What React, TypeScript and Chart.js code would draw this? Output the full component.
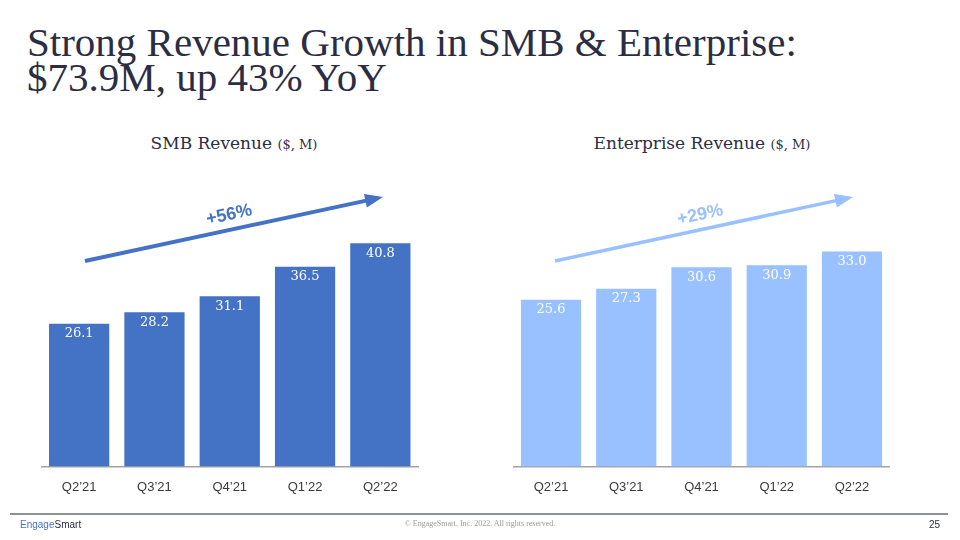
import React, { useEffect, useRef } from "react";
import { Chart, registerables } from "chart.js";

Chart.register(...registerables);

const categories = ["Q2’21", "Q3’21", "Q4’21", "Q1’22", "Q2’22"];
const smbRevenue = [26.1, 28.2, 31.1, 36.5, 40.8];
const enterpriseRevenue = [25.6, 27.3, 30.6, 30.9, 33.0];
const smbGrowthLabel = "+56%";
const enterpriseGrowthLabel = "+29%";

const NAVY = "#2B2E42";
const SMB_BLUE = "#4472C4";
const ENT_BLUE = "#99C0FF";

const valueLabelPlugin = {
  id: "valueLabels",
  afterDatasetsDraw(chart: any) {
    const ctx = chart.ctx;
    const meta = chart.getDatasetMeta(0);
    const data = chart.data.datasets[0].data as number[];
    ctx.save();
    ctx.fillStyle = "#FFFFFF";
    ctx.font = "13px 'DejaVu Serif'";
    ctx.textAlign = "center";
    ctx.textBaseline = "middle";
    meta.data.forEach((bar: any, i: number) => {
      ctx.fillText(data[i].toFixed(1), bar.x, bar.y + 10);
    });
    ctx.restore();
  },
};

function BarChart(props: {
  values: number[];
  color: string;
  max: number;
  padLeft: number;
  padRight: number;
  padTop: number;
}) {
  const ref = useRef<HTMLCanvasElement | null>(null);
  useEffect(() => {
    if (!ref.current) return;
    const chart = new Chart(ref.current, {
      type: "bar",
      data: {
        labels: categories,
        datasets: [
          {
            data: props.values,
            backgroundColor: props.color,
            borderWidth: 0,
            barPercentage: 0.8,
            categoryPercentage: 1.0,
          },
        ],
      },
      options: {
        responsive: false,
        animation: false,
        devicePixelRatio: 1,
        layout: {
          padding: {
            left: props.padLeft,
            right: props.padRight,
            top: props.padTop,
            bottom: 0,
          },
        },
        plugins: {
          legend: { display: false },
          tooltip: { enabled: false },
          title: { display: false },
        },
        scales: {
          x: {
            grid: { display: false, drawTicks: false },
            border: { display: true, color: "#A3A3A3", width: 1.5 },
            ticks: {
              color: "#3A3A3A",
              font: { family: "'Liberation Sans'", size: 13 },
              padding: 13,
            },
          },
          y: {
            display: false,
            min: 0,
            max: props.max,
          },
        },
      },
      plugins: [valueLabelPlugin],
    });
    return () => chart.destroy();
  }, []);
  return <canvas ref={ref} width={480} height={348} />;
}

function Arrow(props: {
  x1: number;
  y1: number;
  x2: number;
  y2: number;
  color: string;
  width: number;
  label: string;
  lx: number;
  ly: number;
}) {
  const { x1, y1, x2, y2, color, width } = props;
  const dx = x2 - x1;
  const dy = y2 - y1;
  const len = Math.sqrt(dx * dx + dy * dy);
  const ux = dx / len;
  const uy = dy / len;
  const headLen = 18;
  const headHalf = 7;
  const bx = x2 - ux * headLen;
  const by = y2 - uy * headLen;
  const px = -uy;
  const py = ux;
  const angle = (Math.atan2(dy, dx) * 180) / Math.PI;
  return (
    <g>
      <line x1={x1} y1={y1} x2={bx + ux * 2} y2={by + uy * 2} stroke={color} strokeWidth={width} />
      <polygon
        points={`${x2},${y2} ${bx + px * headHalf},${by + py * headHalf} ${bx - px * headHalf},${by - py * headHalf}`}
        fill={color}
      />
      <text
        x={props.lx}
        y={props.ly}
        fill={color}
        fontFamily="'Liberation Sans', Arial, sans-serif"
        fontWeight="bold"
        fontSize={18}
        textAnchor="middle"
        dominantBaseline="central"
        transform={`rotate(${angle} ${props.lx} ${props.ly})`}
      >
        {props.label}
      </text>
    </g>
  );
}

export default function App() {
  return (
    <div
      style={{
        position: "absolute",
        left: 0,
        top: 0,
        width: 960,
        height: 540,
        background: "#FFFFFF",
        overflow: "hidden",
        fontFamily: "'DejaVu Serif', serif",
      }}
    >
      <div
        style={{
          position: "absolute",
          left: 27,
          top: 25,
          fontFamily: "'Liberation Serif', serif",
          fontSize: 41,
          lineHeight: "35px",
          color: NAVY,
          whiteSpace: "nowrap",
        }}
      >
        Strong Revenue Growth in SMB &amp; Enterprise:
        <br />
        $73.9M, up 43% YoY
      </div>

      <div
        style={{
          position: "absolute",
          left: 0,
          width: 468,
          top: 133,
          textAlign: "center",
          color: NAVY,
          fontSize: 17,
          whiteSpace: "nowrap",
        }}
      >
        SMB Revenue <span style={{ fontSize: 13 }}>($, M)</span>
      </div>
      <div
        style={{
          position: "absolute",
          left: 480,
          width: 444,
          top: 133,
          textAlign: "center",
          color: NAVY,
          fontSize: 17,
          whiteSpace: "nowrap",
        }}
      >
        Enterprise Revenue <span style={{ fontSize: 13 }}>($, M)</span>
      </div>

      <div style={{ position: "absolute", left: 0, top: 160 }}>
        <BarChart values={smbRevenue} color={SMB_BLUE} max={50} padLeft={41.5} padRight={62} padTop={33} />
      </div>
      <div style={{ position: "absolute", left: 480, top: 160 }}>
        <BarChart values={enterpriseRevenue} color={ENT_BLUE} max={42} padLeft={33.4} padRight={70.4} padTop={33} />
      </div>

      <svg
        width={960}
        height={540}
        style={{ position: "absolute", left: 0, top: 0, pointerEvents: "none" }}
      >
        <Arrow x1={85} y1={261} x2={383} y2={197} color={SMB_BLUE} width={4} label={smbGrowthLabel} lx={229} ly={214} />
        <Arrow x1={555} y1={261} x2={853} y2={197} color={ENT_BLUE} width={3.5} label={enterpriseGrowthLabel} lx={700} ly={214} />
        <line x1={10} y1={514} x2={948} y2={514} stroke="#8C9099" strokeWidth={2} />
      </svg>

      <div
        style={{
          position: "absolute",
          left: 20,
          top: 519,
          fontFamily: "'Liberation Sans', Arial, sans-serif",
          fontSize: 10,
          color: NAVY,
        }}
      >
        <span style={{ color: SMB_BLUE }}>Engage</span>Smart
      </div>
      <div
        style={{
          position: "absolute",
          left: 0,
          width: 960,
          top: 519,
          textAlign: "center",
          fontFamily: "'Liberation Serif', serif",
          fontSize: 8,
          color: "#9A9A9A",
        }}
      >
        © EngageSmart, Inc. 2022. All rights reserved.
      </div>
      <div
        style={{
          position: "absolute",
          left: 929,
          top: 519,
          fontFamily: "'Liberation Sans', Arial, sans-serif",
          fontSize: 10,
          color: NAVY,
        }}
      >
        25
      </div>
    </div>
  );
}
